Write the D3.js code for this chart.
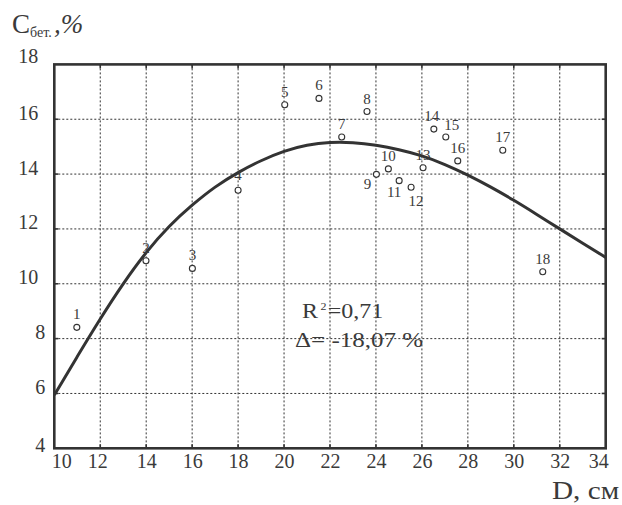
<!DOCTYPE html>
<html>
<head>
<meta charset="utf-8">
<script src="https://cdn.jsdelivr.net/npm/d3@7"></script>
<style>
  html, body { margin: 0; padding: 0; background: #fff; }
  svg { display: block; }
  text { font-family: "Liberation Serif", "Times New Roman", "DejaVu Serif", serif; fill: #3a3a3a; }
</style>
</head>
<body>
<svg id="chart" width="622" height="505"></svg>
<script>
// ---- data ----
const xTicks = [10, 12, 14, 16, 18, 20, 22, 24, 26, 28, 30, 32, 34];
const yTicks = [4, 6, 8, 10, 12, 14, 16, 18];

const pointIds = [1, 2, 3, 4, 5, 6, 7, 8, 9, 10, 11, 12, 13, 14, 15, 16, 17, 18];
const pointD = [10.98, 13.99, 16.01, 18.0, 20.03, 21.52, 22.51, 23.61, 24.02, 24.54, 25.01, 25.53, 26.05, 26.52, 27.04, 27.56, 29.52, 31.26];
const pointC = [8.41, 10.84, 10.56, 13.41, 16.53, 16.76, 15.35, 16.28, 13.99, 14.19, 13.76, 13.52, 14.23, 15.64, 15.35, 14.48, 14.87, 10.44];

// trend curve at each whole D
const curveD = [10, 11, 12, 13, 14, 15, 16, 17, 18, 19, 20, 21, 22, 23, 24, 25, 26, 27, 28, 29, 30, 31, 32, 33, 34];
const curveC = [5.94, 7.35, 8.73, 10.02, 11.17, 12.12, 12.88, 13.55, 14.07, 14.5, 14.85, 15.07, 15.17, 15.16, 15.06, 14.9, 14.68, 14.36, 13.97, 13.53, 13.05, 12.53, 12.0, 11.48, 10.96];

const statR2 = "0,71";
const statDelta = "-18,07 %";

// ---- layout ----
const svg = d3.select("#chart");
const pLeft = 54.3, pRight = 605.7, pTop = 64.4, pBottom = 448.3;
const x = d3.scaleLinear().domain([10, 34]).range([pLeft, pRight]);
const y = d3.scaleLinear().domain([4, 18]).range([pBottom, pTop]);
const dark = "#333";

// label placement (dx, dy of baseline relative to point centre)
const labelPlacement = {
  9: [-9, 15], 11: [-5, 16], 12: [5, 19], 14: [-2, -8], 15: [6, -7], 4: [0, -10]
};

// gridlines
const grid = svg.append("g");
grid.selectAll("line.vx").data(xTicks.slice(1, -1)).join("line")
  .attr("x1", d => x(d)).attr("x2", d => x(d))
  .attr("y1", pTop).attr("y2", pBottom)
  .attr("stroke", dark).attr("stroke-width", 1).attr("stroke-dasharray", "2,2");
grid.selectAll("line.hy").data(yTicks.slice(1, -1)).join("line")
  .attr("y1", d => y(d)).attr("y2", d => y(d))
  .attr("x1", pLeft).attr("x2", pRight)
  .attr("stroke", dark).attr("stroke-width", 1).attr("stroke-dasharray", "2,2");

// inward tick marks on all four sides
const tk = svg.append("g").attr("stroke", dark).attr("stroke-width", 1.6);
xTicks.slice(1, -1).forEach(d => {
  tk.append("line").attr("x1", x(d)).attr("x2", x(d)).attr("y1", pBottom).attr("y2", pBottom - 4);
  tk.append("line").attr("x1", x(d)).attr("x2", x(d)).attr("y1", pTop).attr("y2", pTop + 4);
});
yTicks.slice(1, -1).forEach(d => {
  tk.append("line").attr("y1", y(d)).attr("y2", y(d)).attr("x1", pLeft).attr("x2", pLeft + 4);
  tk.append("line").attr("y1", y(d)).attr("y2", y(d)).attr("x1", pRight).attr("x2", pRight - 4);
});

// x axis labels via d3 axis
const xAxis = svg.append("g")
  .attr("transform", `translate(0,${pBottom})`)
  .call(d3.axisBottom(x).tickValues(xTicks).tickSize(0).tickPadding(0).tickFormat(d3.format("d")));
xAxis.attr("font-family", null);
xAxis.select(".domain").remove();
xAxis.selectAll("text")
  .attr("y", 20).attr("dy", 0)
  .style("font-size", "20px")
  .attr("fill", "#3a3a3a")
  .attr("text-anchor", (d, i) => i === 0 ? "start" : (i === xTicks.length - 1 ? "end" : "middle"))
  .attr("dx", (d, i) => i === 0 ? -3 : (i === xTicks.length - 1 ? 2.5 : (d === 12 ? -3 : 0)));

// y axis labels via d3 axis
const yAxis = svg.append("g")
  .attr("transform", `translate(${pLeft},0)`)
  .call(d3.axisLeft(y).tickValues(yTicks).tickSize(0).tickPadding(0).tickFormat(d3.format("d")));
yAxis.attr("font-family", null);
yAxis.select(".domain").remove();
yAxis.selectAll("text")
  .attr("x", d => d >= 10 ? -16 : -9)
  .attr("dy", 0)
  .attr("y", d => d === 18 ? -2 : (d === 4 ? 3 : 0))
  .style("font-size", "20px")
  .attr("fill", "#3a3a3a")
  .attr("text-anchor", "end");

// frame
svg.append("rect")
  .attr("x", pLeft).attr("y", pTop)
  .attr("width", pRight - pLeft).attr("height", pBottom - pTop)
  .attr("fill", "none").attr("stroke", dark).attr("stroke-width", 2.6);

// trend curve
const curvePts = curveD.map((d, i) => [d, curveC[i]]);
svg.append("path")
  .datum(curvePts)
  .attr("d", d3.line().x(d => x(d[0])).y(d => y(d[1])).curve(d3.curveBasis))
  .attr("fill", "none").attr("stroke", dark).attr("stroke-width", 3)
  .attr("stroke-linejoin", "round");

// points
const pts = pointIds.map((id, i) => ({ id, d: pointD[i], c: pointC[i] }));
svg.append("g").selectAll("circle").data(pts).join("circle")
  .attr("cx", p => x(p.d)).attr("cy", p => y(p.c)).attr("r", 3)
  .attr("fill", "#fff").attr("stroke", dark).attr("stroke-width", 1.1);

svg.append("g").selectAll("text").data(pts).join("text")
  .attr("x", p => x(p.d) + (labelPlacement[p.id] ? labelPlacement[p.id][0] : 0))
  .attr("y", p => y(p.c) + (labelPlacement[p.id] ? labelPlacement[p.id][1] : -8))
  .attr("text-anchor", "middle")
  .style("font-size", "15px")
  .attr("fill", "#555")
  .text(p => p.id);

// title
const title = svg.append("text").attr("x", 12).attr("y", 33).style("font-size", "27px");
title.append("tspan").text("C");
title.append("tspan").attr("dy", 4).style("font-size", "14px").text("бет.");
title.append("tspan").attr("x", 54).attr("dy", -4).style("font-style", "italic").text(",%");

// x axis title (slightly wide lettering as in the reference)
svg.append("text")
  .attr("transform", "translate(552,499) scale(1.17,1)")
  .style("font-size", "25px").text("D, см");

// statistics
const r2 = svg.append("text")
  .attr("transform", "translate(302,318) scale(1.2,1)")
  .style("font-size", "20px");
r2.append("tspan").attr("x", 0).text("R");
r2.append("tspan").attr("x", 15.5).attr("dy", -8).style("font-size", "10px").text("2");
r2.append("tspan").attr("x", 21.5).attr("dy", 8).text("=" + statR2);

svg.append("text")
  .attr("transform", "translate(295,346.5) scale(1.25,1)")
  .style("font-size", "20px").text("Δ= " + statDelta);
</script>
</body>
</html>
